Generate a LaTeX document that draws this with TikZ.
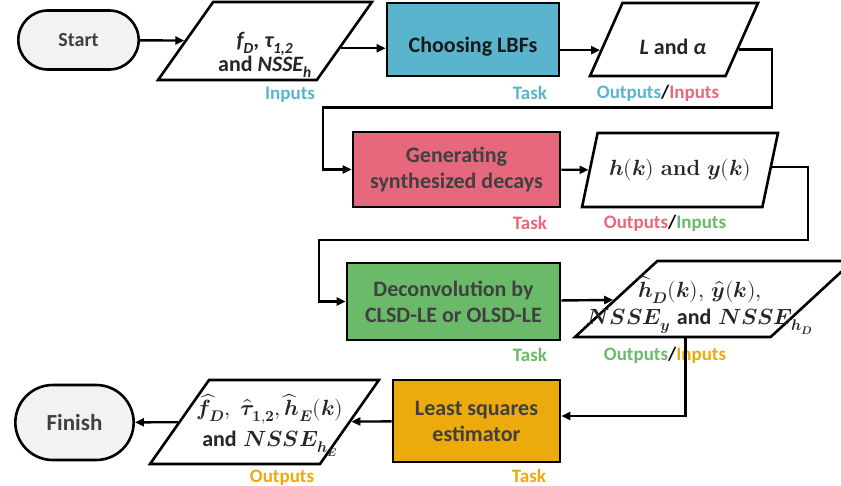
\documentclass[tikz,border=0pt]{standalone}
\usepackage{amsmath}
\usepackage{fontspec}
\usepackage{unicode-math}
\setmathfont{latinmodern-math.otf}
\newfontfamily\calib{Carlito}
\usepackage{tikz}
\usetikzlibrary{shapes,arrows.meta,positioning,calc}

\definecolor{tblue}{RGB}{91,180,205}
\definecolor{tpink}{RGB}{231,104,124}
\definecolor{tgreen}{RGB}{106,186,105}
\definecolor{torange}{RGB}{237,170,12}
\definecolor{tgrey}{RGB}{242,242,242}
\definecolor{txtgrey}{RGB}{64,64,64}

\begin{document}
\begin{tikzpicture}[x=1pt,y=-1pt,
    box/.style={draw,line width=2.6pt,inner sep=0pt,align=center,text=txtgrey,
      font=\calib\bfseries\fontsize{22}{26}\selectfont},
    term/.style={rounded rectangle,draw,line width=2.6pt,fill=tgrey,text=txtgrey,
      font=\calib\bfseries\fontsize{20}{24}\selectfont},
    para/.style 2 args={trapezium,trapezium left angle=#1,trapezium right angle=#2,
      trapezium stretches=true,draw,line width=2.6pt,fill=white,inner sep=2pt},
    io/.style={align=center,text=black!85,font=\fontsize{22}{31}\selectfont},
    flow/.style={line width=2.4pt,-{Triangle[length=9pt,width=8pt]}},
    tag/.style={font=\calib\bfseries\fontsize{19}{22}\selectfont}]
    \useasboundingbox (0,0) rectangle (841,486);
    \clip (0,0) rectangle (841,486);

    % first row
    \node[term,minimum width=127,minimum height=59] (start) at (78.5,40) {Start};
    \node[para={62}{118},minimum width=214,minimum height=78] (in) at (265,41) {};
    \node[io,font=\calib\bfseries\fontsize{22}{20}\selectfont] (intxt) at (265,55)
      {{\itshape f\textsubscript{D}, τ\textsubscript{1,2}}\\and {\itshape NSSE\textsubscript{h}}};
    \node[box,fill=tblue,minimum width=172,minimum height=73] (lbf) at (473,39.5) {};
    \node[box,draw=none,text=black!90] (lbftxt) at (473,47) {Choosing LBFs};
    \node[para={72.5}{107.5},minimum width=168,minimum height=73] (la) at (674,39.5) {};
    \node[io,font=\calib\bfseries\fontsize{22}{26}\selectfont] (latxt) at (673,47)
      {{\itshape L} and {\itshape α}};

    % second row
    \node[box,fill=tpink,minimum width=207,minimum height=75] (gen) at (456.5,169.5)
      {Generating\\synthesized decays};
    \node[para={62}{118},minimum width=196,minimum height=74,io] (hk) at (680,170)
      {$\symbfit{h}(\symbfit{k})$ \textbf{and} $\symbfit{y}(\symbfit{k})$};

    % third row
    \node[box,fill=tgreen,minimum width=213,minimum height=77] (dec) at (453.5,301.5)
      {Deconvolution by\\CLSD-LE or OLSD-LE};
    \node[para={54}{126},minimum width=278,minimum height=76] (hd) at (714,299) {};
    \node[io,font=\fontsize{22}{27}\selectfont] (hdtxt) at (700,305)
      {$\widehat{\symbfit{h}}_{\symbfit{D}}(\symbfit{k}),\,\widehat{\symbfit{y}}(\symbfit{k}),$\\
       $\symbfit{NSSE}_{\symbfit{y}}$ {\calib\bfseries and} $\symbfit{NSSE}_{\symbfit{h}_{\symbfit{D}}}$};

    % last row
    \node[box,fill=torange,minimum width=167,minimum height=82] (lse) at (476.5,421)
      {Least squares\\estimator};
    \node[para={62}{118},minimum width=229,minimum height=84] (out) at (264.5,422) {};
    \node[io] (outtxt) at (270,425)
      {$\widehat{\symbfit{f}}_{\symbfit{D}},\ \widehat{\symbfit{\tau}}_{\symbf{1,2}},\widehat{\symbfit{h}}_{\symbfit{E}}(\symbfit{k})$\\
       {\calib\bfseries and} $\symbfit{NSSE}_{\symbfit{h}_{\symbfit{E}}}$};
    \node[term,minimum width=125,minimum height=75,
      font=\calib\bfseries\fontsize{23}{26}\selectfont] (fin) at (74.5,422.5) {Finish};

    % labels
    \node[tag,text=tblue] (l1) at (290,95) {Inputs};
    \node[tag,text=tblue] (t1) at (530,93) {Task};
    \node[tag] (l2) at (658,93) {\textcolor{tblue}{Outputs}/\textcolor{tpink}{Inputs}};
    \node[tag,text=tpink] (t2) at (530,223) {Task};
    \node[tag] (l3) at (665,223) {\textcolor{tpink}{Outputs}/\textcolor{tgreen}{Inputs}};
    \node[tag,text=tgreen] (t3) at (530,355) {Task};
    \node[tag] (l4) at (665,355) {\textcolor{tgreen}{Outputs}/\textcolor{torange}{Inputs}};
    \node[tag,text=torange] (t4) at (529,476) {Task};
    \node[tag,text=torange] (l5) at (282,478) {Outputs};

    % connectors
    \draw[flow] (start) -- (in);
    \draw[flow] ($(in.top right corner)!.59!(in.bottom right corner)$) coordinate (a1)
      -- (a1 -| lbf.west);
    \coordinate (a2) at ($(la.top left corner)!.64!(la.bottom left corner)$);
    \draw[flow] (a2 -| lbf.east) -- (a2);
    \draw[flow] ($(la.top right corner)!.63!(la.bottom right corner)$) -- ++(33,0)
      |- ([xshift=-29pt,yshift=62pt]gen.west) |- (gen.west);
    \draw[flow] (gen) -- (hk);
    \draw[flow] ($(hk.top right corner)!.46!(hk.bottom right corner)$) -- ++(36,0)
      |- ([xshift=-27pt,yshift=61.5pt]dec.west) |- (dec.west);
    \draw[flow] (dec) -- (hd);
    \draw[flow] ($(hd.bottom left corner)!.57!(hd.bottom right corner)$)
      |- ([yshift=5pt]lse.east);
    \draw[flow] (lse) -- (out);
    \draw[flow] (out) -- (fin);
\end{tikzpicture}
\end{document}
